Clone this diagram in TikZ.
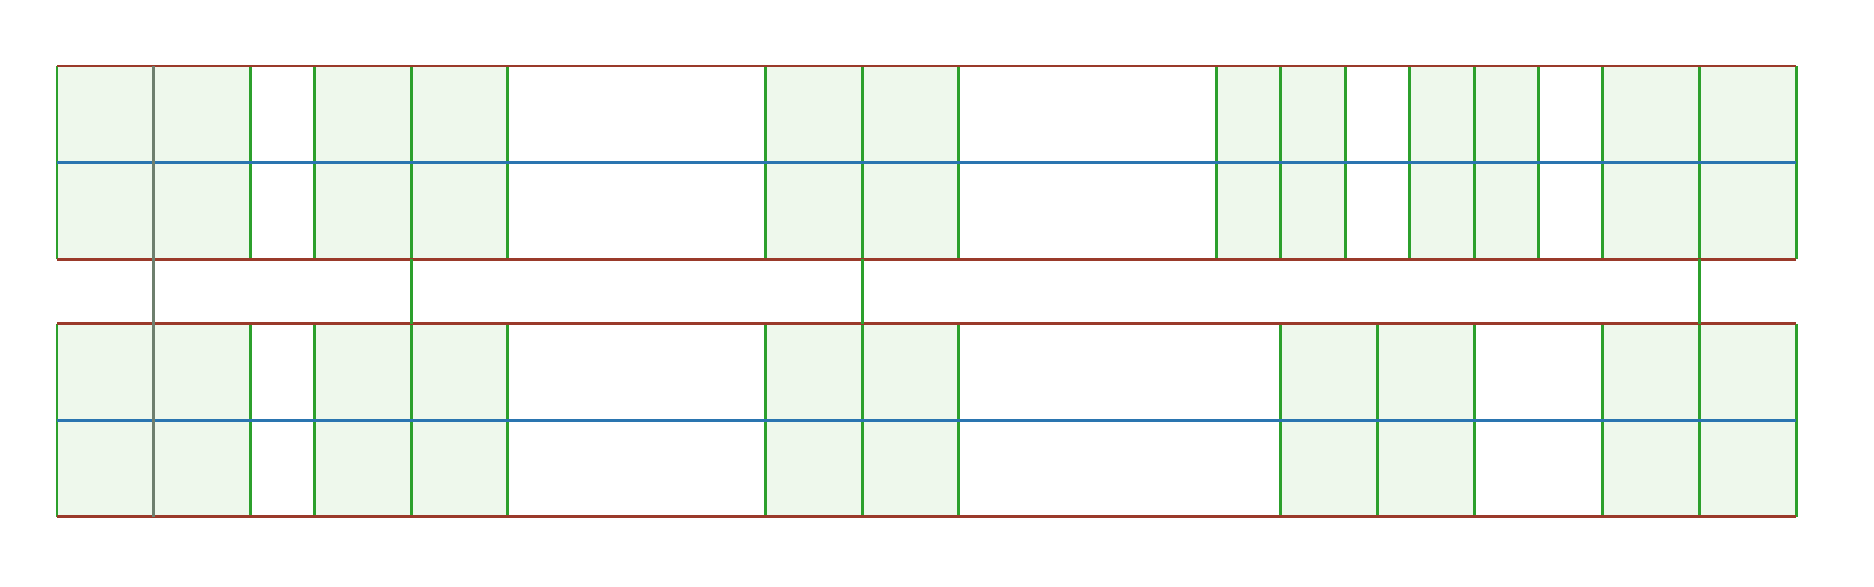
\documentclass[tikz,border=0pt]{standalone}
\usepackage{xcolor}
\usepackage{tikz}
\definecolor{rimred}{HTML}{9A3A2A}
\definecolor{midblue}{HTML}{2A75B0}
\definecolor{wallgreen}{HTML}{2CA02C}
\definecolor{slotfill}{HTML}{EEF8EC}
\definecolor{linkgray}{HTML}{6E7F6E}

\begin{document}
\begin{tikzpicture}[x=0.5cm, y=0.5cm, line width=1.3pt,
    slot/.style={fill=slotfill},
    wall/.style={draw=wallgreen},
    rim/.style={draw=rimred},
    mid/.style={draw=midblue},
    link/.style={draw=linkgray}]
        \useasboundingbox (-1.77,-2.17) rectangle (56.42,16.05);

        \fill [slot]  (0,8)  rectangle (6,14);                        %A
        \fill [slot]  (8,8)  rectangle (14,14);                       %B
        \fill [slot]  (22,8) rectangle (28,14);                       %C
        \fill [slot]  (36,8) rectangle (40,14);                       %D
        \fill [slot]  (42,8) rectangle (46,14);                       %E
        \fill [slot]  (48,8) rectangle (54,14);                       %F
        \draw [wall]  (0,8)  -- (0,14)  (3,8)  -- (3,14)  (6,8)  -- (6,14);   %A
        \draw [wall]  (8,8)  -- (8,14)  (11,8) -- (11,14) (14,8) -- (14,14);  %B
        \draw [wall]  (22,8) -- (22,14) (25,8) -- (25,14) (28,8) -- (28,14);  %C
        \draw [wall]  (36,8) -- (36,14) (38,8) -- (38,14) (40,8) -- (40,14);  %D
        \draw [wall]  (42,8) -- (42,14) (44,8) -- (44,14) (46,8) -- (46,14);  %E
        \draw [wall]  (48,8) -- (48,14) (51,8) -- (51,14) (54,8) -- (54,14);  %F
        \draw [mid]   (0,11) -- (54,11);                              %
        \draw [rim]   (0,8)  -- (54,8);                               %
        \draw [rim]   (0,14) -- (54,14);                              %

        \fill [slot]  (0,0)  rectangle (6,6);                         %A
        \fill [slot]  (8,0)  rectangle (14,6);                        %B
        \fill [slot]  (22,0) rectangle (28,6);                        %C
        \fill [slot]  (38,0) rectangle (44,6);                        %G
        \fill [slot]  (48,0) rectangle (54,6);                        %F
        \draw [wall]  (0,0)  -- (0,6)   (3,0)  -- (3,6)   (6,0)  -- (6,6);    %A
        \draw [wall]  (8,0)  -- (8,6)   (11,0) -- (11,6)  (14,0) -- (14,6);   %B
        \draw [wall]  (22,0) -- (22,6)  (25,0) -- (25,6)  (28,0) -- (28,6);   %C
        \draw [wall]  (38,0) -- (38,6)  (41,0) -- (41,6)  (44,0) -- (44,6);   %G
        \draw [wall]  (48,0) -- (48,6)  (51,0) -- (51,6)  (54,0) -- (54,6);   %F
        \draw [mid]   (0,3)  -- (54,3);                               %
        \draw [rim]   (0,0)  -- (54,0);                               %
        \draw [rim]   (0,6)  -- (54,6);                               %

        \coordinate (topA)  at (3,14);   \coordinate (botA)  at (3,0);
        \coordinate (topB)  at (11,8);   \coordinate (botB)  at (11,6);
        \coordinate (topC)  at (25,8);   \coordinate (botC)  at (25,6);
        \coordinate (topF)  at (51,8);   \coordinate (botF)  at (51,6);
        \draw [wall]  (topB) -- (botB);                               %
        \draw [wall]  (topC) -- (botC);                               %
        \draw [wall]  (topF) -- (botF);                               %
        \draw [link]  (topA) -- (botA);                               %
      \end{tikzpicture}
\end{document}
